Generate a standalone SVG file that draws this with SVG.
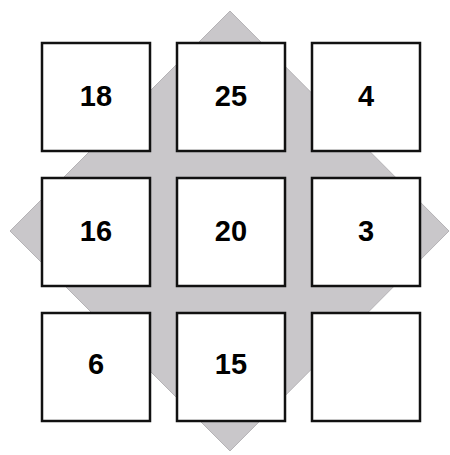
<svg xmlns="http://www.w3.org/2000/svg" width="450" height="455" viewBox="0 0 450 455">
<style>
.cell{fill:#ffffff;stroke:#111111;stroke-width:2.5}
.num{font-family:"Liberation Sans",Arial,sans-serif;font-weight:bold;font-size:29px;text-anchor:middle;fill:#000000}
</style>
<rect width="450" height="455" fill="#ffffff"/>
<g id="diamond">
<polygon points="230,11 449,231 230,451 10,231" fill="#c9c7ca" stroke="#b5b3b6" stroke-width="1"/>
</g>
<g id="connectors"></g>
<g id="c11"><rect class="cell" x="42" y="43" width="108" height="108"/><text class="num" x="96" y="106">18</text></g>
<g id="c12"><rect class="cell" x="177" y="43" width="108" height="108"/><text class="num" x="231" y="106">25</text></g>
<g id="c13"><rect class="cell" x="312" y="43" width="108" height="108"/><text class="num" x="366" y="106">4</text></g>
<g id="c21"><rect class="cell" x="42" y="178" width="108" height="108"/><text class="num" x="96" y="241">16</text></g>
<g id="c22"><rect class="cell" x="177" y="178" width="108" height="108"/><text class="num" x="231" y="241">20</text></g>
<g id="c23"><rect class="cell" x="312" y="178" width="108" height="108"/><text class="num" x="366" y="241">3</text></g>
<g id="c31"><rect class="cell" x="42" y="313" width="108" height="108"/><text class="num" x="96" y="374">6</text></g>
<g id="c32"><rect class="cell" x="177" y="313" width="108" height="108"/><text class="num" x="231" y="374">15</text></g>
<g id="c33"><rect class="cell" x="312" y="313" width="108" height="108"/></g>
</svg>
